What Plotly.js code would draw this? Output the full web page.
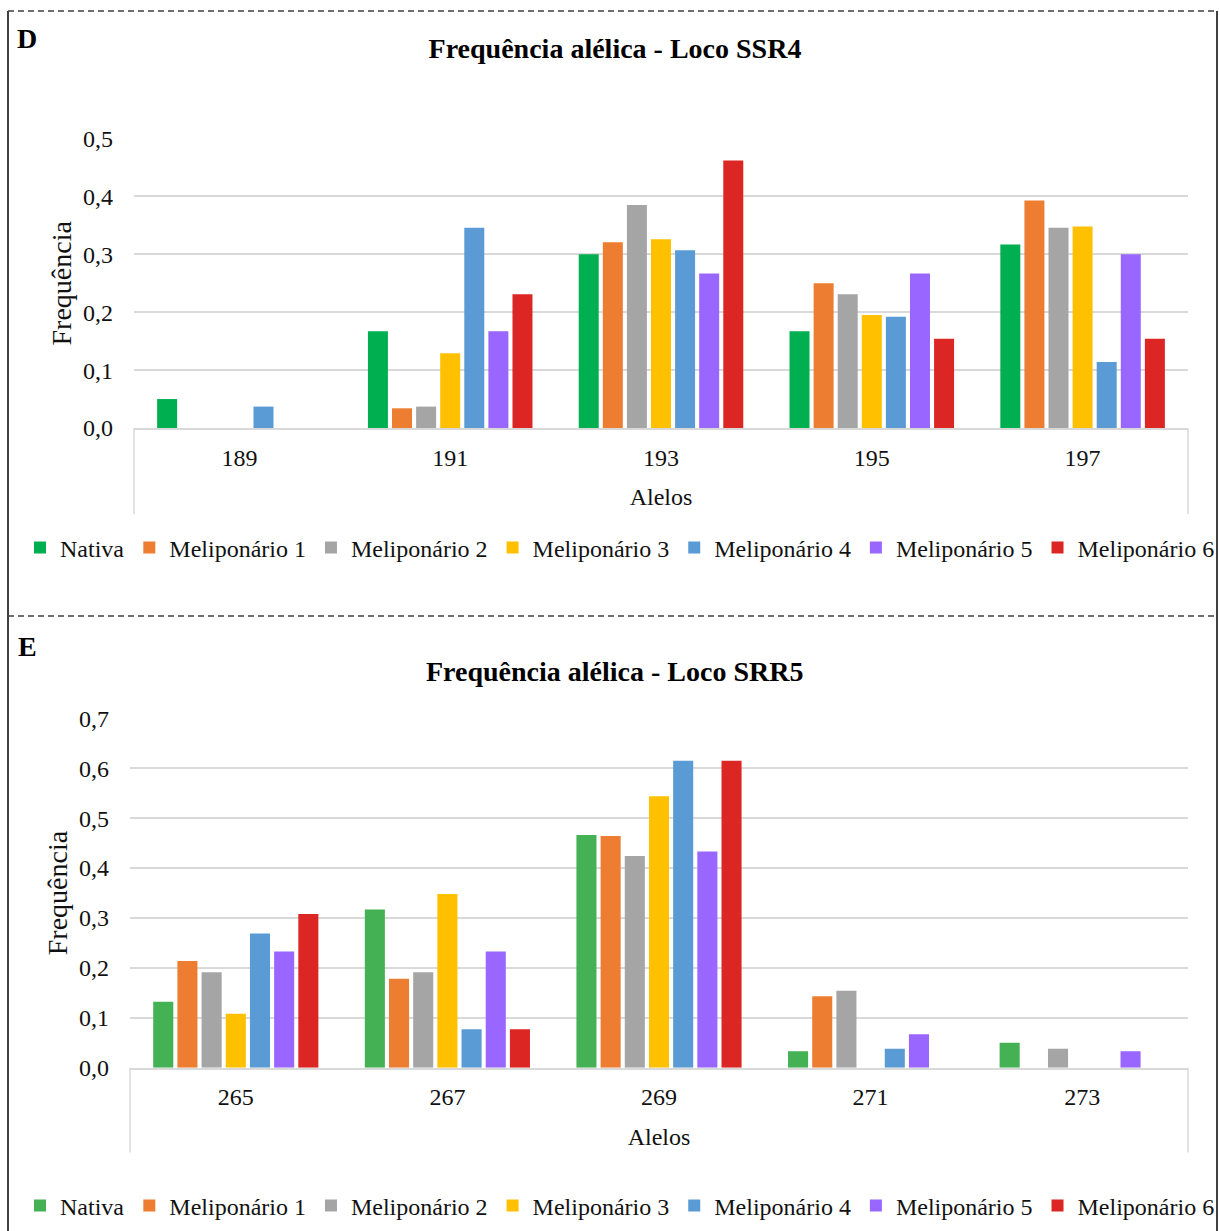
<!DOCTYPE html>
<html>
<head>
<meta charset="utf-8">
<script src="https://cdn.plot.ly/plotly-3.0.1.min.js"></script>
<style>html,body{margin:0;padding:0;background:#fff;}#chart{width:1220px;height:1231px;}</style>
</head>
<body>
<div id="chart"></div>
<script>
// ---- Data: Loco SSR4 (panel D) ----
var allelesSSR4 = ['189', '191', '193', '195', '197'];
var ssr4Nativa = [0.050, 0.167, 0.300, 0.167, 0.317];
var ssr4Melip1 = [0, 0.034, 0.321, 0.250, 0.393];
var ssr4Melip2 = [0, 0.037, 0.385, 0.231, 0.346];
var ssr4Melip3 = [0, 0.129, 0.326, 0.195, 0.348];
var ssr4Melip4 = [0.037, 0.346, 0.307, 0.192, 0.114];
var ssr4Melip5 = [0, 0.167, 0.267, 0.267, 0.300];
var ssr4Melip6 = [0, 0.231, 0.462, 0.154, 0.154];

// ---- Data: Loco SRR5 (panel E) ----
var allelesSRR5 = ['265', '267', '269', '271', '273'];
var srr5Nativa = [0.132, 0.317, 0.466, 0.033, 0.050];
var srr5Melip1 = [0.214, 0.178, 0.464, 0.143, 0];
var srr5Melip2 = [0.191, 0.191, 0.424, 0.154, 0.038];
var srr5Melip3 = [0.108, 0.348, 0.544, 0, 0];
var srr5Melip4 = [0.269, 0.077, 0.615, 0.038, 0];
var srr5Melip5 = [0.233, 0.233, 0.433, 0.067, 0.033];
var srr5Melip6 = [0.308, 0.077, 0.615, 0, 0];

var seriesNames = ['Nativa', 'Meliponário 1', 'Meliponário 2', 'Meliponário 3', 'Meliponário 4', 'Meliponário 5', 'Meliponário 6'];
var colorsD = ['#00B050', '#ED7D31', '#A5A5A5', '#FFC000', '#5B9BD5', '#9966FF', '#DC2623'];
var colorsE = ['#44B155', '#ED7D31', '#A5A5A5', '#FFC000', '#5B9BD5', '#9966FF', '#DC2623'];

var FONT = '"Liberation Serif", "Times New Roman", serif';
var W = 1220, H = 1231;
function px(x) { return x / W; }
function py(y) { return 1 - y / H; }

var ssr4Series = [ssr4Nativa, ssr4Melip1, ssr4Melip2, ssr4Melip3, ssr4Melip4, ssr4Melip5, ssr4Melip6];
var srr5Series = [srr5Nativa, srr5Melip1, srr5Melip2, srr5Melip3, srr5Melip4, srr5Melip5, srr5Melip6];

var traces = [];
ssr4Series.forEach(function (vals, i) {
  traces.push({
    type: 'bar', name: seriesNames[i], x: allelesSSR4, y: vals,
    xaxis: 'x', yaxis: 'y', legend: 'legend',
    marker: { color: colorsD[i] }, hoverinfo: 'x+y+name'
  });
});
srr5Series.forEach(function (vals, i) {
  traces.push({
    type: 'bar', name: seriesNames[i], x: allelesSRR5, y: vals,
    xaxis: 'x2', yaxis: 'y2', legend: 'legend2',
    marker: { color: colorsE[i] }, hoverinfo: 'x+y+name'
  });
});

var gridColor = '#D9D9D9';
function xAxis(domain, anchor) {
  return {
    domain: domain, anchor: anchor, type: 'category',
    showgrid: false, showline: true, linecolor: gridColor, linewidth: 1.5,
    ticks: '', ticklabelstandoff: 7, automargin: false,
    tickfont: { family: FONT, size: 24, color: '#111' },
    title: { text: 'Alelos', font: { family: FONT, size: 24, color: '#111' }, standoff: 19 }
  };
}
function yAxis(domain, anchor, maxV) {
  return {
    domain: domain, anchor: anchor, range: [0, maxV], dtick: 0.1, tickformat: '.1f',
    showgrid: true, gridcolor: gridColor, gridwidth: 1.5, zeroline: false, showline: false,
    ticks: '', ticklabelstandoff: 20, automargin: false,
    tickfont: { family: FONT, size: 24, color: '#111' },
    title: { text: 'Frequência', font: { family: FONT, size: 28, color: '#111' }, standoff: 3 }
  };
}

var dashLine = { color: '#404040', width: 1.5, dash: '6px,4px' };
var solidLine = { color: '#404040', width: 2 };
var axisExt = { color: gridColor, width: 1.5 };

var layout = {
  width: W, height: H,
  margin: { l: 0, r: 0, t: 0, b: 0, pad: 0 },
  paper_bgcolor: '#fff', plot_bgcolor: '#fff',
  separators: ', ',
  font: { family: FONT, color: '#111' },
  barmode: 'group', bargap: 0.2, bargroupgap: 0.17,
  title: {
    text: '<b>Frequência alélica - Loco SSR4</b>',
    x: px(615), xanchor: 'center', y: py(48), yanchor: 'middle',
    font: { family: FONT, size: 28, color: '#000' }
  },
  xaxis: xAxis([px(134), px(1188)], 'y'),
  yaxis: yAxis([py(428), py(138.5)], 'x', 0.5),
  xaxis2: xAxis([px(130), px(1188)], 'y2'),
  yaxis2: yAxis([py(1067.7), py(718.3)], 'x2', 0.7),
  legend: {
    orientation: 'h', x: px(621), xanchor: 'center', y: py(548), yanchor: 'middle',
    font: { family: FONT, size: 24, color: '#111' }, itemwidth: 30, bgcolor: 'rgba(0,0,0,0)'
  },
  legend2: {
    orientation: 'h', x: px(625), xanchor: 'center', y: py(1206), yanchor: 'middle',
    font: { family: FONT, size: 24, color: '#111' }, itemwidth: 30, bgcolor: 'rgba(0,0,0,0)'
  },
  annotations: [
    { text: '<b>D</b>', xref: 'paper', yref: 'paper', x: px(15), xanchor: 'left', y: py(39), yanchor: 'middle',
      showarrow: false, font: { family: FONT, size: 28, color: '#000' } },
    { text: '<b>E</b>', xref: 'paper', yref: 'paper', x: px(16), xanchor: 'left', y: py(646), yanchor: 'middle',
      showarrow: false, font: { family: FONT, size: 28, color: '#000' } },
    { text: '<b>Frequência alélica - Loco SRR5</b>', xref: 'paper', yref: 'paper', x: px(614), xanchor: 'center',
      y: py(671), yanchor: 'middle', showarrow: false, font: { family: FONT, size: 28, color: '#000' } }
  ],
  shapes: [
    // outer frame
    { type: 'line', xref: 'paper', yref: 'paper', x0: px(8), x1: px(1217), y0: py(11), y1: py(11), line: dashLine },
    { type: 'line', xref: 'paper', yref: 'paper', x0: px(8), x1: px(1217), y0: py(616), y1: py(616), line: dashLine },
    { type: 'line', xref: 'paper', yref: 'paper', x0: px(8), x1: px(8), y0: py(11), y1: 0, line: solidLine },
    { type: 'line', xref: 'paper', yref: 'paper', x0: px(1217), x1: px(1217), y0: py(11), y1: 0, line: solidLine },
    // category axis box extensions (panel D)
    { type: 'line', xref: 'x domain', yref: 'y domain', x0: 0, x1: 0, y0: 0, y1: -0.297, line: axisExt },
    { type: 'line', xref: 'x domain', yref: 'y domain', x0: 1, x1: 1, y0: 0, y1: -0.297, line: axisExt },
    // category axis box extensions (panel E)
    { type: 'line', xref: 'x2 domain', yref: 'y2 domain', x0: 0, x1: 0, y0: 0, y1: -0.243, line: axisExt },
    { type: 'line', xref: 'x2 domain', yref: 'y2 domain', x0: 1, x1: 1, y0: 0, y1: -0.243, line: axisExt }
  ]
};

Plotly.newPlot('chart', traces, layout, { displayModeBar: false, responsive: false });
</script>
</body>
</html>
